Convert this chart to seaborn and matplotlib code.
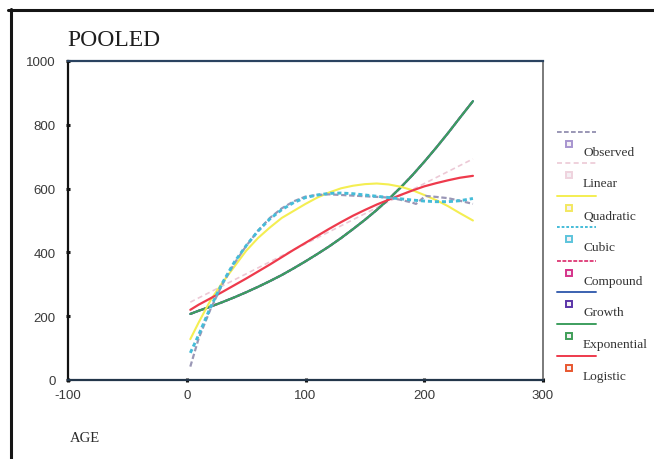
import matplotlib
matplotlib.use("Agg")
import matplotlib.pyplot as plt
from matplotlib.lines import Line2D
import seaborn as sns
import pandas as pd

# ---- data -------------------------------------------------------------
obs_age = [3, 10, 20, 30, 40, 50, 60, 70, 80, 90, 100, 110, 120, 130, 140,
           150, 160, 170, 180, 190, 193, 201, 210, 220, 230, 241]
obs_val = [42, 130, 222, 300, 365, 420, 468, 508, 538, 560, 575, 580, 582,
           580, 578, 576, 574, 572, 565, 556, 552, 577, 574, 570, 562, 552]

fit_age = [3, 10, 20, 30, 40, 50, 60, 70, 80, 90, 100, 110, 120, 130, 140,
           150, 160, 170, 180, 190, 200, 210, 220, 230, 241]
linear_age = [3, 241]
linear_val = [244, 693]
quadratic_val = [128, 180, 250, 305, 355, 405, 445, 478, 508, 530, 552, 572,
                 588, 601, 609, 614, 616, 613, 606, 595, 580, 564, 545, 523, 500]
cubic_val = [85, 141, 228, 304, 369, 421, 467, 505, 534, 556, 572, 580, 585,
             586, 584, 580, 576, 572, 568, 564, 561, 559, 559, 562, 569]
exponential_val = [207, 217, 230, 244, 259, 275, 292, 310, 329, 350, 372, 395,
                   419, 445, 473, 502, 533, 567, 603, 642, 684, 728, 774, 822, 874]
compound_val = exponential_val
growth_val = exponential_val
logistic_val = [220, 236, 256, 276, 297, 318, 340, 362, 385, 408, 430, 452,
                474, 495, 515, 533, 550, 565, 580, 594, 607, 617, 626, 634, 640]

legend_labels = ["Observed", "Linear", "Quadratic", "Cubic",
                 "Compound", "Growth", "Exponential", "Logistic"]
x_ticks = [-100, 0, 100, 200, 300]
y_ticks = [0, 200, 400, 600, 800, 1000]

# ---- styles -----------------------------------------------------------
styles = {
    "Observed":    dict(color="#9a97b6", ls=(0, (2.4, 1.2)), lw=1.6, mk="#a795cf"),
    "Linear":      dict(color="#ecc9d6", ls=(0, (3.0, 2.0)), lw=1.2, mk="#efd3de"),
    "Quadratic":   dict(color="#f4ee52", ls="-", lw=1.5, mk="#f3e860"),
    "Cubic":       dict(color="#45bcd8", ls=(0, (1.4, 1.0)), lw=2.1, mk="#5cc4dc"),
    "Compound":    dict(color="#e0457e", ls=(0, (2.0, 0.8)), lw=1.6, mk="#d5338a"),
    "Growth":      dict(color="#3b62b0", ls="-", lw=1.6, mk="#5a34a8"),
    "Exponential": dict(color="#3d9e5e", ls="-", lw=1.5, mk="#3f9e58"),
    "Logistic":    dict(color="#ee3a4c", ls="-", lw=1.6, mk="#e8572f"),
}

W, H = 654, 460
sns.set_theme(style="white")
plt.rcParams["font.family"] = ["DejaVu Sans"]

fig = plt.figure(figsize=(W / 100, H / 100), dpi=100)
fig.patch.set_facecolor("white")


def fx(x):
    return x / W


def fy(y):
    return 1 - y / H


ax = fig.add_axes([fx(68), fy(381), fx(543) - fx(68), fy(62) - fy(381)])
ax.set_facecolor("white")

series = [
    ("Linear", linear_age, linear_val),
    ("Compound", fit_age, compound_val),
    ("Growth", fit_age, growth_val),
    ("Exponential", fit_age, exponential_val),
    ("Quadratic", fit_age, quadratic_val),
    ("Logistic", fit_age, logistic_val),
    ("Observed", obs_age, obs_val),
    ("Cubic", fit_age, cubic_val),
]
for name, ages, vals in series:
    st = styles[name]
    df = pd.DataFrame({"AGE": ages, "value": vals})
    sns.lineplot(data=df, x="AGE", y="value", ax=ax, color=st["color"],
                 linestyle=st["ls"], linewidth=st["lw"], estimator=None,
                 sort=True, legend=False)

ax.set_xlim(-100, 300)
ax.set_ylim(0, 1000)
ax.set_xticks(x_ticks)
ax.set_yticks(y_ticks)
ax.set_xticklabels([str(v) for v in x_ticks])
ax.set_yticklabels([str(v) for v in y_ticks])
ax.set_xlabel("")
ax.set_ylabel("")
tick_font = ["Liberation Sans Narrow", "Liberation Sans", "DejaVu Sans"]
for lab in ax.get_xticklabels() + ax.get_yticklabels():
    lab.set_family(tick_font)
    lab.set_fontsize(9.5)
    lab.set_color("#3a3a3a")
ax.tick_params(axis="both", direction="inout", length=3.5, width=2.2,
               color="#111111", bottom=True, left=True)
ax.tick_params(axis="x", pad=5)
ax.tick_params(axis="y", pad=7)

ax.spines["left"].set_color("#111111")
ax.spines["left"].set_linewidth(1.6)
ax.spines["bottom"].set_color("#23364a")
ax.spines["bottom"].set_linewidth(1.6)
ax.spines["top"].set_color("#2a4360")
ax.spines["top"].set_linewidth(1.6)
ax.spines["right"].set_color("#7a7a7a")
ax.spines["right"].set_linewidth(1.4)
for s in ax.spines.values():
    s.set_visible(True)

# titles
serif = ["Liberation Serif", "DejaVu Serif"]
fig.text(fx(67), fy(41), "POOLED", family=serif, fontsize=17, color="#1e1e1e",
         ha="left", va="center")
fig.text(fx(70), fy(438), "AGE", family=serif, fontsize=10.5, color="#2a2a2a",
         ha="left", va="center")

# legend: line sample, then a small square marker with the label
line_y = [133, 164, 197, 228, 262, 293, 325, 357]
for i, name in enumerate(legend_labels):
    st = styles[name]
    yl = line_y[i]
    fig.add_artist(Line2D([fx(557), fx(596)], [fy(yl), fy(yl)], color=st["color"],
                          linestyle=st["ls"], linewidth=min(st["lw"], 1.4)))
    fig.add_artist(Line2D([fx(569)], [fy(yl + 12)], marker="s", markersize=4.5,
                          markerfacecolor="#f4f0f4", markeredgecolor=st["mk"],
                          markeredgewidth=1.4, linestyle="none"))
    fig.text(fx(583), fy(yl + 20), name, family=serif, fontsize=9.6,
             color="#333333", ha="left", va="center")

# outer frame (top and left edges)
fig.add_artist(Line2D([fx(8), fx(654)], [fy(11), fy(11)], color="#151515", linewidth=2.2))
fig.add_artist(Line2D([fx(11), fx(11)], [fy(10), fy(460)], color="#151515", linewidth=2.2))

fig.savefig("out.png", dpi=100, facecolor="white")
